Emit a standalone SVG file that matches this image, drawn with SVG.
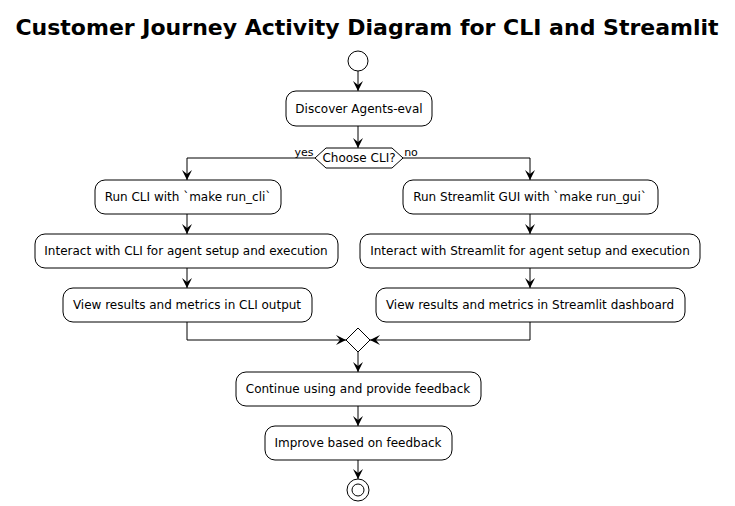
<svg xmlns="http://www.w3.org/2000/svg" width="735" height="506" viewBox="0 0 735 506">
<defs>
<marker id="ah" viewBox="0 0 10 10" refX="10" refY="5" markerWidth="10" markerHeight="10" orient="auto" markerUnits="userSpaceOnUse"><path d="M0,0 L10,5 L0,10 L4,5 Z" fill="#000"/></marker>
<style>
.n{fill:#fff;stroke:#000;stroke-width:1}
.t{font-family:"DejaVu Sans",sans-serif;font-size:12px;fill:#000;text-anchor:middle}
.c{fill:none;stroke:#000;stroke-width:1;marker-end:url(#ah)}
</style>
</defs>
<rect width="735" height="506" fill="#fff"/>
<text x="367" y="35" font-family="DejaVu Sans,sans-serif" font-size="22" font-weight="bold" text-anchor="middle">Customer Journey Activity Diagram for CLI and Streamlit</text>
<g id="connectors">
<path class="c" d="M358,71 V91"/>
<path class="c" d="M358,126 V148"/>
<path class="c" d="M315,158 H187 V180"/>
<path class="c" d="M403,158 H530 V180"/>
<path class="c" d="M187,214 V234"/>
<path class="c" d="M530,214 V234"/>
<path class="c" d="M187,268 V288"/>
<path class="c" d="M530,268 V288"/>
<path class="c" d="M187,322 V340 H346"/>
<path class="c" d="M530,322 V340 H370"/>
<path class="c" d="M358,352 V372"/>
<path class="c" d="M358,406 V426"/>
<path class="c" d="M358,460 V479"/>
<text x="304" y="156" font-family="DejaVu Sans,sans-serif" font-size="11" text-anchor="middle">yes</text>
<text x="411" y="156" font-family="DejaVu Sans,sans-serif" font-size="11" text-anchor="middle">no</text>
</g>
<g id="start"><circle cx="358" cy="61" r="10" class="n"/></g>
<g id="discover"><rect class="n" x="286" y="91" width="146" height="35" rx="10"/><text class="t" x="359" y="113">Discover Agents-eval</text></g>
<g id="choose"><path class="n" d="M315,158 L326,148 H392 L403,158 L392,168 H326 Z"/><text class="t" x="359" y="162" font-size="11">Choose CLI?</text></g>
<g id="runcli"><rect class="n" x="95" y="180" width="186" height="34" rx="10"/><text class="t" x="188" y="201">Run CLI with `make run_cli`</text></g>
<g id="rungui"><rect class="n" x="403" y="180" width="255" height="34" rx="10"/><text class="t" x="530" y="201">Run Streamlit GUI with `make run_gui`</text></g>
<g id="intcli"><rect class="n" x="35" y="234" width="303" height="34" rx="10"/><text class="t" x="186" y="255">Interact with CLI for agent setup and execution</text></g>
<g id="intgui"><rect class="n" x="360" y="234" width="340" height="34" rx="10"/><text class="t" x="530" y="255">Interact with Streamlit for agent setup and execution</text></g>
<g id="viewcli"><rect class="n" x="63" y="288" width="249" height="34" rx="10"/><text class="t" x="187" y="309">View results and metrics in CLI output</text></g>
<g id="viewgui"><rect class="n" x="376" y="288" width="309" height="34" rx="10"/><text class="t" x="530" y="309">View results and metrics in Streamlit dashboard</text></g>
<g id="merge"><path class="n" d="M358,328 L370,340 L358,352 L346,340 Z"/></g>
<g id="continue"><rect class="n" x="236" y="372" width="245" height="34" rx="10"/><text class="t" x="358" y="393">Continue using and provide feedback</text></g>
<g id="improve"><rect class="n" x="265" y="426" width="187" height="34" rx="10"/><text class="t" x="358" y="447">Improve based on feedback</text></g>
<g id="end"><circle cx="358" cy="490" r="11" class="n"/><circle cx="358" cy="490" r="6" fill="#fff" stroke="#000"/></g>
</svg>
